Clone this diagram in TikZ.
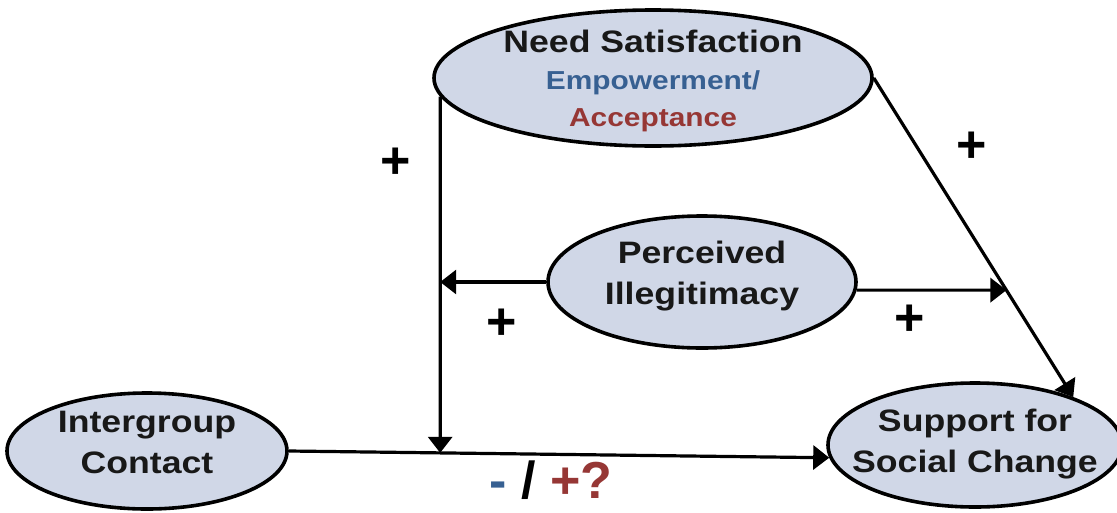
\documentclass[tikz,border=0pt]{standalone}
\usepackage{fontspec}
\setmainfont{Liberation Sans}[FakeStretch=1.15]
\newfontfamily\signfont{Liberation Sans}
\usetikzlibrary{shapes.geometric,arrows.meta}
\definecolor{ovalfill}{RGB}{208,215,231}
\definecolor{empblue}{RGB}{55,96,146}
\definecolor{accred}{RGB}{150,55,53}
\definecolor{ink}{RGB}{24,24,24}
\begin{document}
\begin{tikzpicture}[x=1pt,y=-1pt,
  construct/.style={ellipse, draw=black, line width=3.6pt, fill=ovalfill, inner sep=0pt},
  lbl/.style={inner sep=0pt, align=center, text=ink,
    font=\bfseries\fontsize{31}{41}\selectfont},
  link/.style={line width=3.2pt, -{Triangle[length=16pt,width=24pt]}},
  sign/.style={inner sep=0pt, text=black, font=\signfont\bfseries\fontsize{52}{52}\selectfont}
]
\clip (0,0) rectangle (1117,512);
\fill[white] (0,0) rectangle (1117,512);

% constructs
\node[construct, minimum width=438pt, minimum height=136pt] (need) at (653,78) {};
\node[construct, minimum width=308pt, minimum height=132pt] (pil) at (702,282) {};
\node[construct, minimum width=280pt, minimum height=116pt] (ic) at (147,451) {};
\node[construct, minimum width=294pt, minimum height=124pt] (soc) at (975,445) {};

% construct labels
\node[lbl, font=\bfseries\fontsize{26}{37}\selectfont] (needtxt) at (653,81)
  {{\fontsize{31}{37}\selectfont Need Satisfaction}\\
   \textcolor{empblue}{Empowerment/}\\
   \textcolor{accred}{Acceptance}};
\node[lbl] (piltxt) at (702,276) {Perceived\\Illegitimacy};
\node[lbl] (ictxt) at (147,442) {Intergroup\\Contact};
\node[lbl] (soctxt) at (975,444) {Support for\\Social Change};

% helper points where arrows meet other paths
\path (need.185) ++(0,400) coordinate (nlow);
\coordinate (jbot) at (intersection of ic.east--soc.185 and need.185--nlow);
\path (pil.-3) ++(300,0) coordinate (pfar);
\coordinate (jdiag) at (intersection of need.east--soc.26 and pil.-3--pfar);

% paths
\draw[link] (ic.east) -- (soc.185);
\draw[link] (need.185) -- (jbot);
\draw[link] (pil.west) -- (need.185 |- pil.west);
\draw[link] (pil.-3) -- (jdiag);
\draw[link] (need.east) -- (soc.26);

% signs
\node[sign] (s1) at (396,163) {+};
\node[sign] (s2) at (972,147) {+};
\node[sign] (s3) at (502,324) {+};
\node[sign] (s4) at (910,320) {+};
\node[sign, anchor=base] (s5) at (551,498)
  {\textcolor{empblue}{-} / \textcolor{accred}{+?}};
\end{tikzpicture}
\end{document}
